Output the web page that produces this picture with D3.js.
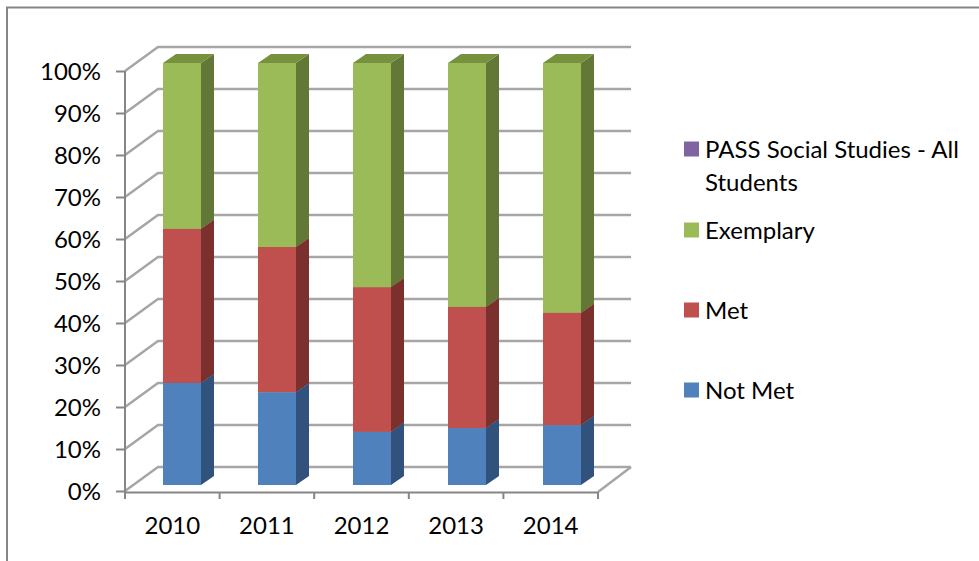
<!DOCTYPE html>
<html>
<head>
<meta charset="utf-8">
<script src="https://cdn.jsdelivr.net/npm/d3@7"></script>
<style>
  html, body { margin: 0; padding: 0; background: #fff; }
  svg { display: block; }
  text { font-family: Lato, "Open Sans", sans-serif; fill: #000; }
  .axis text { font-size: 24px; }
  .axis path, .axis line { stroke: #868686; stroke-width: 2px; }
  .legend text { font-size: 24px; }
</style>
</head>
<body>
<main></main>
<script>
!(function () {
  'use strict';

  // data
  const years = ['2010', '2011', '2012', '2013', '2014'];
  const notMet = [24.2, 22.0, 12.6, 13.5, 14.2];
  const met = [36.5, 34.4, 34.3, 28.7, 26.6];
  const exemplary = [39.3, 43.6, 53.1, 57.8, 59.2];
  const pass = [0, 0, 0, 0, 0];
  const percentTicks = [0, 10, 20, 30, 40, 50, 60, 70, 80, 90, 100];
  const seriesNames = ['Not Met', 'Met', 'Exemplary', 'PASS Social Studies - All Students'];

  // configuration
  const canvas = { width: 979, height: 561 };
  const plot = { left: 125, right: 598, top: 71, bottom: 491 };
  const wall = { dx: 33, dy: -24 };
  const bar = { left: 134.5, right: 609.5, top: 63, bottom: 485, width: 38, sideX: 13, sideY: -9 };
  const colors = {
    'Not Met': { front: '#4f81bd', side: '#30527c', top: '#3a6496' },
    'Met': { front: '#c0504d', side: '#7b302e', top: '#99403d' },
    'Exemplary': { front: '#9bbb59', side: '#637837', top: '#76923c' },
    'PASS Social Studies - All Students': { front: '#8064a2', side: '#503e66', top: '#65507f' }
  };

  const svg = d3.select('main').append('svg')
    .attr('width', canvas.width)
    .attr('height', canvas.height);

  const xScale = d3.scaleBand().domain(years).range([plot.left, plot.right]);
  const yScale = d3.scaleLinear().domain([0, 100]).range([plot.bottom, plot.top]);
  // the bars stand further back on the floor, so they get their own scales
  const barX = d3.scaleBand().domain(years).range([bar.left, bar.right]);
  const barY = d3.scaleLinear().domain([0, 100]).range([bar.bottom, bar.top]);

  // frame
  svg.append('path')
    .attr('d', 'M7,561V7.5H979')
    .attr('fill', 'none')
    .attr('stroke', '#868686')
    .attr('stroke-width', 2);

  // gridlines, on the back and left walls
  const grid = svg.append('g').attr('class', 'grid')
    .attr('fill', 'none')
    .attr('stroke', '#a6a6a6')
    .attr('stroke-width', 2.5);

  grid.selectAll('path')
    .data(percentTicks)
    .enter()
    .append('path')
    .attr('d', function (d) {
      const y = yScale(d);
      return 'M' + plot.left + ',' + y +
        'L' + (plot.left + wall.dx) + ',' + (y + wall.dy) +
        'H' + (plot.right + wall.dx);
    });

  // floor edge on the right
  grid.append('path')
    .attr('d', 'M' + plot.right + ',' + (plot.bottom + 1) +
      'L' + (plot.right + wall.dx) + ',' + (plot.bottom + wall.dy));

  // stacked bars
  const rows = years.map(function (year, i) {
    return {
      year: year,
      'Not Met': notMet[i],
      'Met': met[i],
      'Exemplary': exemplary[i],
      'PASS Social Studies - All Students': pass[i]
    };
  });
  const stacked = d3.stack().keys(seriesNames)(rows);

  const bars = svg.append('g').attr('class', 'bars');
  stacked.forEach(function (series) {
    const c = colors[series.key];
    const g = bars.append('g').attr('class', 'series');

    series.forEach(function (d) {
      if (d[1] - d[0] <= 0) return;
      const x0 = barX(d.data.year) + (barX.bandwidth() - bar.width) / 2;
      const x1 = x0 + bar.width;
      const yBottom = barY(d[0]);
      const yTop = barY(d[1]);

      g.append('path')
        .attr('fill', c.side)
        .attr('d', 'M' + x1 + ',' + yBottom +
          'L' + (x1 + bar.sideX) + ',' + (yBottom + bar.sideY) +
          'V' + (yTop + bar.sideY) +
          'L' + x1 + ',' + yTop + 'Z');

      g.append('path')
        .attr('fill', c.top)
        .attr('d', 'M' + x0 + ',' + yTop +
          'L' + (x0 + bar.sideX) + ',' + (yTop + bar.sideY) +
          'H' + (x1 + bar.sideX) +
          'L' + x1 + ',' + yTop + 'Z');

      g.append('rect')
        .attr('fill', c.front)
        .attr('x', x0)
        .attr('y', yTop)
        .attr('width', bar.width)
        .attr('height', yBottom - yTop);
    });
  });

  // axes
  const yAxis = svg.append('g')
    .attr('class', 'axis')
    .attr('transform', 'translate(' + plot.left + ',0)')
    .call(d3.axisLeft(yScale)
      .tickValues(percentTicks)
      .tickFormat(function (d) { return d + '%'; })
      .tickSize(9)
      .tickPadding(15));
  yAxis.select('.domain').attr('d', 'M0,' + plot.top + 'V' + (plot.bottom + 1));
  yAxis.selectAll('text').attr('dy', '0.36em');

  const xAxis = svg.append('g')
    .attr('class', 'axis')
    .attr('transform', 'translate(0,' + (plot.bottom + 1) + ')')
    .call(d3.axisBottom(xScale)
      .tickSize(0)
      .tickPadding(25));

  // tick marks sit between the categories
  xAxis.selectAll('.edge')
    .data(xScale.domain().concat(['end']))
    .enter()
    .append('line')
    .attr('class', 'edge')
    .attr('x1', function (d) { return d === 'end' ? plot.right : xScale(d); })
    .attr('x2', function (d) { return d === 'end' ? plot.right : xScale(d); })
    .attr('y1', 0)
    .attr('y2', 7);

  // legend
  const legendItems = [
    { name: seriesNames[3], lines: ['PASS Social Studies - All', 'Students'], y: 149 },
    { name: seriesNames[2], lines: ['Exemplary'], y: 230 },
    { name: seriesNames[1], lines: ['Met'], y: 310 },
    { name: seriesNames[0], lines: ['Not Met'], y: 390 }
  ];

  const legend = svg.append('g').attr('class', 'legend');
  legendItems.forEach(function (item) {
    legend.append('rect')
      .attr('x', 684)
      .attr('y', item.y - 7.5)
      .attr('width', 15)
      .attr('height', 15)
      .attr('fill', colors[item.name].front);

    item.lines.forEach(function (line, i) {
      legend.append('text')
        .attr('x', 705)
        .attr('y', item.y + 9 + i * 33)
        .text(line);
    });
  });
}());
</script>
</body>
</html>
